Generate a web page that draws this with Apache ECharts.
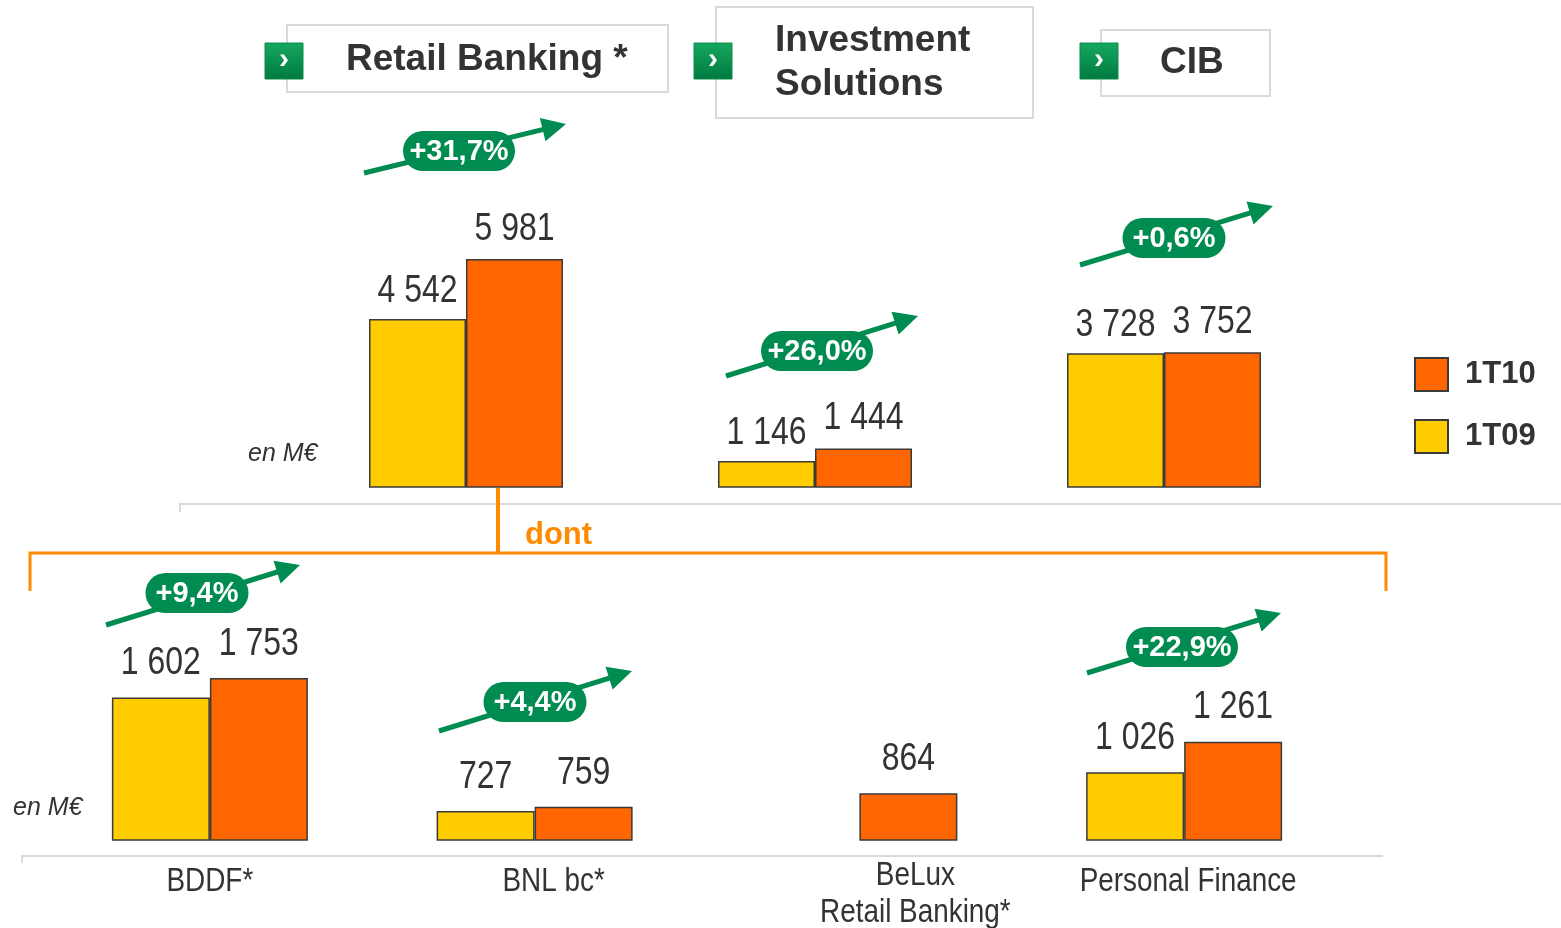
<!DOCTYPE html>
<html><head><meta charset="utf-8">
<script src="https://cdn.jsdelivr.net/npm/echarts/dist/echarts.min.js"></script>
<style>html,body{margin:0;padding:0;background:#fff}#c{width:1561px;height:928px}</style>
</head><body><div id="c"></div>
<script>
// ---- data ----
const seriesNames = ['1T09', '1T10'];
const topCategories = ['Retail Banking *', 'Investment\nSolutions', 'CIB'];
const top1T09 = [4542, 1146, 3728];
const top1T10 = [5981, 1444, 3752];
const topGrowth = ['+31,7%', '+26,0%', '+0,6%'];
const bottomCategories = ['BDDF*', 'BNL bc*', 'BeLux\nRetail Banking*', 'Personal Finance'];
const bottom1T09 = [1602, 727, null, 1026];
const bottom1T10 = [1753, 759, 864, 1261];
const bottomGrowth = ['+9,4%', '+4,4%', null, '+22,9%'];
const unitLabel = 'en M€';
const connectorLabel = 'dont';

// ---- styles ----
const YEL = '#FFCC00', ORA = '#FF6600', GRN = '#008C50', BRK = '#FF8A00', TXT = '#333333';
const SANS = '"Liberation Sans",Arial,sans-serif';
const NARROW_SCALE = 0.82;
const TOP_MIN = 524, TOP_MAX = 7393, BOT_MIN = 503, BOT_MAX = 2663;
const fmt = v => v == null ? '' : String(v).replace(/\B(?=(\d{3})+(?!\d))/g, ' ');

const chart = echarts.init(document.getElementById('c'));

function barSeries(name, data, color, gi) {
  return {
    type: 'bar', name, data, xAxisIndex: gi, yAxisIndex: gi,
    barWidth: gi === 0 ? 97 : 98, barGap: '0%',
    itemStyle: { color, borderColor: '#3a3a3a', borderWidth: 1.5 },
    emphasis: { disabled: true }, animation: false
  };
}
// narrow value labels (Arial-Narrow look: Liberation Sans scaled horizontally)
function labelSeries(data, gi, offX, gap) {
  return {
    type: 'custom', xAxisIndex: gi, yAxisIndex: gi, silent: true, clip: false, z: 5,
    data: data.map((v, i) => [i, v == null ? '-' : v]),
    renderItem(params, api) {
      const v = api.value(1);
      if (v == null || isNaN(v)) return null;
      const p = api.coord([api.value(0), v]);
      return { type: 'text', x: p[0] + offX, y: p[1] - gap - 14, scaleX: NARROW_SCALE,
        style: { text: fmt(v), fontSize: 39, fontFamily: SANS, fill: TXT, align: 'center', verticalAlign: 'middle' } };
    }
  };
}
const catShiftX = [0, 19, 56, 4];
const catShiftY = [0, 0, -6, 0];
const categoryLabelSeries = {
  type: 'custom', xAxisIndex: 1, yAxisIndex: 1, silent: true, clip: false, z: 5,
  data: bottomCategories.map((c, i) => [i, BOT_MIN]),
  renderItem(params, api) {
    const i = api.value(0);
    const p = api.coord([i, api.value(1)]);
    return { type: 'text', x: p[0] + catShiftX[i], y: p[1] + 23 + catShiftY[i], scaleX: NARROW_SCALE,
      style: { text: bottomCategories[i], fontSize: 34, fontFamily: SANS, fill: TXT, align: 'center', verticalAlign: 'top', lineHeight: 37 } };
  }
};

// ---- decorations ----
const G = [];
function arrow(x1, y1, x2, y2) {
  const dx = x2 - x1, dy = y2 - y1, L = Math.hypot(dx, dy), ux = dx / L, uy = dy / L;
  const hl = 24, hw = 12, bx = x2 - ux * hl, by = y2 - uy * hl, px = -uy, py = ux;
  G.push({ type: 'line', shape: { x1, y1, x2: bx + ux * 2, y2: by + uy * 2 }, style: { stroke: GRN, lineWidth: 5 } });
  G.push({ type: 'polygon', shape: { points: [[x2, y2], [bx + px * hw, by + py * hw], [bx - px * hw, by - py * hw]] }, style: { fill: GRN } });
}
function pill(cx, cy, text) {
  const w = 9 * text.length + 58;
  G.push({ type: 'rect', shape: { x: cx - w / 2, y: cy - 20, width: w, height: 40, r: 20 }, style: { fill: GRN } });
  G.push({ type: 'text', x: cx, y: cy + 1, style: { text, fill: '#fff', font: 'bold 29px ' + SANS, align: 'center', verticalAlign: 'middle' } });
}
const arrowsTop = [[364, 173, 566, 124, 459, 151], [726, 376, 918, 316, 817, 351], [1080, 265, 1273, 206, 1174, 238]];
const arrowsBot = [[106, 625, 300, 565, 197, 593], [439, 731, 632, 671, 535, 702], null, [1087, 673, 1281, 613, 1182, 647]];
arrowsTop.forEach((a, i) => { arrow(a[0], a[1], a[2], a[3]); pill(a[4], a[5], topGrowth[i]); });
arrowsBot.forEach((a, i) => { if (a && bottomGrowth[i]) { arrow(a[0], a[1], a[2], a[3]); pill(a[4], a[5], bottomGrowth[i]); } });

// headers
const headers = [
  { box: [287, 25, 381, 67], icon: [265, 43], tx: 346, ty: 60 },
  { box: [716, 7, 317, 111], icon: [694, 43], tx: 775, ty: 63 },
  { box: [1101, 30, 169, 66], icon: [1080, 43], tx: 1160, ty: 63 }
];
headers.forEach((h, i) => {
  G.push({ type: 'rect', shape: { x: h.box[0], y: h.box[1], width: h.box[2], height: h.box[3] }, style: { fill: '#fff', stroke: '#DADADA', lineWidth: 2 } });
  G.push({ type: 'rect', shape: { x: h.icon[0], y: h.icon[1], width: 38, height: 36 },
    style: { fill: new echarts.graphic.LinearGradient(0, 0, 0, 1, [{ offset: 0, color: '#16A85F' }, { offset: 1, color: '#007A40' }]), stroke: '#0C8A4C', lineWidth: 1 } });
  G.push({ type: 'text', x: h.icon[0] + 19, y: h.icon[1] + 17, style: { text: '›', fill: '#fff', font: 'bold 30px ' + SANS, align: 'center', verticalAlign: 'middle' } });
  G.push({ type: 'text', x: h.tx, y: h.ty, style: { text: topCategories[i], fill: TXT, font: 'bold 37px ' + SANS, lineHeight: 44, align: 'left', verticalAlign: 'middle' } });
});

// separators
G.push({ type: 'polyline', shape: { points: [[180, 512], [180, 504], [1561, 504]] }, style: { stroke: '#D9D9D9', lineWidth: 2, fill: null } });
G.push({ type: 'polyline', shape: { points: [[22, 863], [22, 856], [1383, 856]] }, style: { stroke: '#D9D9D9', lineWidth: 2, fill: null } });
// bracket
G.push({ type: 'line', shape: { x1: 498, y1: 488, x2: 498, y2: 552 }, style: { stroke: BRK, lineWidth: 4 } });
G.push({ type: 'polyline', shape: { points: [[30, 591], [30, 553], [1386, 553], [1386, 591]] }, style: { stroke: BRK, lineWidth: 3, fill: null } });
G.push({ type: 'text', x: 525, y: 535, style: { text: connectorLabel, fill: BRK, font: 'bold 31px ' + SANS, verticalAlign: 'middle' } });
// units
G.push({ type: 'text', x: 248, y: 454, style: { text: unitLabel, fill: TXT, font: 'italic 25px ' + SANS, verticalAlign: 'middle' } });
G.push({ type: 'text', x: 13, y: 808, style: { text: unitLabel, fill: TXT, font: 'italic 25px ' + SANS, verticalAlign: 'middle' } });

chart.setOption({
  animation: false,
  legend: {
    orient: 'vertical', left: 1409, top: 352, itemWidth: 33, itemHeight: 33, itemGap: 27,
    icon: 'rect', data: ['1T10', '1T09'], selectedMode: false,
    textStyle: { fontFamily: SANS, fontSize: 31, fontWeight: 'bold', color: TXT, padding: [0, 0, 0, 12] }
  },
  grid: [
    { left: 291.5, width: 1047, top: 200, height: 287 },
    { left: 47.5, width: 1299, top: 560, height: 280 }
  ],
  xAxis: [
    { type: 'category', gridIndex: 0, data: topCategories, axisLine: { show: false }, axisTick: { show: false }, axisLabel: { show: false } },
    { type: 'category', gridIndex: 1, data: bottomCategories, axisLine: { show: false }, axisTick: { show: false }, axisLabel: { show: false } }
  ],
  yAxis: [
    { type: 'value', gridIndex: 0, min: TOP_MIN, max: TOP_MAX, show: false, splitLine: { show: false } },
    { type: 'value', gridIndex: 1, min: BOT_MIN, max: BOT_MAX, show: false, splitLine: { show: false } }
  ],
  series: [
    barSeries(seriesNames[0], top1T09, YEL, 0),
    barSeries(seriesNames[1], top1T10, ORA, 0),
    barSeries(seriesNames[0], bottom1T09, YEL, 1),
    barSeries(seriesNames[1], bottom1T10, ORA, 1),
    labelSeries(top1T09, 0, -48.5, 14),
    labelSeries(top1T10, 0, 48.5, 16),
    labelSeries(bottom1T09, 1, -49, 20),
    labelSeries(bottom1T10, 1, 49, 20),
    categoryLabelSeries
  ],
  graphic: G
});
</script></body></html>
